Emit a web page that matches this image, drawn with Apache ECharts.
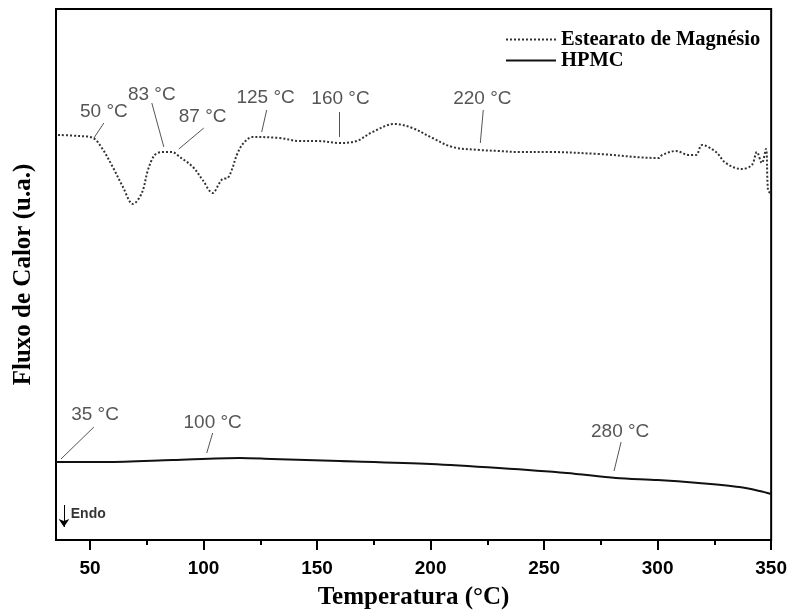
<!DOCTYPE html>
<html>
<head>
<meta charset="utf-8">
<script src="https://cdn.jsdelivr.net/npm/echarts@6/dist/echarts.min.js"></script>
<style>html,body{margin:0;padding:0;background:#fff}#c{width:790px;height:615px}</style>
</head>
<body>
<div id="c"></div>
<script>
// Temperature (°C) and heat flow (arbitrary units)
const estearatoT = [35.9, 45, 51.3, 55.2, 60, 64.5, 68.9, 72.8, 75.5, 78.5, 82, 86, 89.5, 95.3, 99.6, 104, 107, 108.4, 110.6, 112.4, 115, 118, 121.6, 133.5, 142.3, 150, 159.9, 167.4, 174.4, 184, 192, 200.8, 209.6, 221.5, 230, 239, 252, 274, 300.6, 302, 308, 313.8, 316.9, 319.6, 325.7, 330, 337, 341.5, 343.7, 345.9, 347.7, 348.6, 349.5];
const estearatoY = [405, 404, 402, 392, 373, 353, 336, 347, 370, 385, 388, 388, 383, 373, 360, 347, 357, 361, 362, 370, 387, 398, 403, 402, 399, 399, 397, 399, 408, 416, 412, 402, 393, 390, 389, 388, 388, 386, 382, 385, 389, 385, 385, 395, 388, 377, 371, 375, 388, 377, 391, 350, 347];
const hpmcT = [35, 57, 86.5, 116, 130, 160, 200, 230, 260, 281.6, 300, 318, 336, 345, 350];
const hpmcY = [78, 78, 80, 82, 81, 79, 76, 72, 67, 62, 60, 57, 53, 49, 46];

const seriesNames = ['Estearato de Magnésio', 'HPMC'];
const majorTicks = [50, 100, 150, 200, 250, 300, 350];
const minorTicks = [75, 125, 175, 225, 275, 325];

// annotations: label, label position, leader line start, leader line end
const annLabels = ['50 °C', '83 °C', '87 °C', '125 °C', '160 °C', '220 °C', '35 °C', '100 °C', '280 °C'];
const annText = [[56.1, 428], [77.2, 445], [99.6, 423], [127.3, 442], [160.3, 441], [222.8, 441], [52.2, 125], [104.0, 117], [283.5, 108]];
const annFrom = [[56.1, 417], [77.2, 437], [100.1, 412], [127.8, 430], [159.9, 428], [223.2, 430], [51.7, 113], [104, 107], [283.9, 98]];
const annTo = [[51.7, 402], [82.5, 393], [89.1, 391], [125.6, 408], [159.9, 403], [221.9, 397], [37.2, 81], [101.4, 87], [280.8, 69]];

const endoLabel = 'Endo';
const endoArrow = [[38.5, 35], [38.5, 13]];
const endoText = [41.5, 26];

const chart = echarts.init(document.getElementById('c'), null, {renderer: 'canvas'});
const zip = (a, b) => a.map((v, i) => [v, b[i]]);

chart.setOption({
  animation: false,
  backgroundColor: '#fff',
  grid: {left: 56, right: 18, top: 9, bottom: 75, show: true, borderColor: '#000', borderWidth: 2, backgroundColor: 'transparent'},
  legend: {
    data: seriesNames, orient: 'vertical', left: 500, top: 24, itemWidth: 50, itemHeight: 14, itemGap: 0,
    itemStyle: {opacity: 0},
    textStyle: {fontFamily: 'Liberation Serif', fontWeight: 'bold', fontSize: 20.5, color: '#000'}
  },
  xAxis: [{
    type: 'value', min: 35, max: 350, position: 'bottom',
    name: 'Temperatura (°C)', nameLocation: 'middle', nameGap: 45,
    nameTextStyle: {fontFamily: 'Liberation Serif', fontWeight: 'bold', fontSize: 25, color: '#000'},
    axisLine: {show: true, lineStyle: {color: '#000', width: 2}},
    axisTick: {show: true, customValues: majorTicks, length: 10, lineStyle: {color: '#000', width: 2}},
    axisLabel: {show: true, customValues: majorTicks, margin: 19, fontFamily: 'Liberation Sans', fontWeight: 'bold', fontSize: 19, color: '#000'},
    splitLine: {show: false}
  }, {
    type: 'value', min: 35, max: 350, position: 'bottom',
    axisLine: {show: false},
    axisTick: {show: true, customValues: minorTicks, length: 5, lineStyle: {color: '#000', width: 2}},
    axisLabel: {show: false},
    splitLine: {show: false}
  }],
  yAxis: {
    type: 'value', min: 0, max: 531,
    name: 'Fluxo de Calor (u.a.)', nameLocation: 'middle', nameGap: 20,
    nameTextStyle: {fontFamily: 'Liberation Serif', fontWeight: 'bold', fontSize: 25, color: '#000'},
    axisLine: {show: false}, axisTick: {show: false}, axisLabel: {show: false}, splitLine: {show: false}
  },
  series: [{
    name: seriesNames[0], type: 'line', symbol: 'none', smooth: 0.35,
    data: zip(estearatoT, estearatoY),
    lineStyle: {type: 'dotted', width: 2, color: '#333'}, itemStyle: {color: '#333'}
  }, {
    name: seriesNames[1], type: 'line', symbol: 'none', smooth: 0.3,
    data: zip(hpmcT, hpmcY),
    lineStyle: {type: 'solid', width: 2, color: '#111'}, itemStyle: {color: '#111'}
  }, {
    type: 'lines', coordinateSystem: 'cartesian2d', silent: true,
    data: annFrom.map((p, i) => ({coords: [p, annTo[i]]})),
    lineStyle: {color: '#555', width: 1, opacity: 1}
  }, {
    type: 'scatter', symbolSize: 0, silent: true,
    data: annLabels.map((n, i) => ({name: n, value: annText[i]})),
    label: {show: true, formatter: '{b}', position: [0, 0], align: 'center', verticalAlign: 'middle',
      fontFamily: 'Liberation Sans', fontSize: 19, color: '#2a2a2a'}
  }, {
    type: 'lines', coordinateSystem: 'cartesian2d', silent: true,
    symbol: ['none', 'arrow'], symbolSize: 8,
    data: [{coords: endoArrow}],
    lineStyle: {color: '#000', width: 1, opacity: 1}
  }, {
    type: 'scatter', symbolSize: 0, silent: true,
    data: [{name: endoLabel, value: endoText}],
    label: {show: true, formatter: '{b}', position: [0, 0], align: 'left', verticalAlign: 'middle',
      fontFamily: 'Liberation Sans', fontWeight: 'bold', fontSize: 14, color: '#000'}
  }]
});
</script>
</body>
</html>
